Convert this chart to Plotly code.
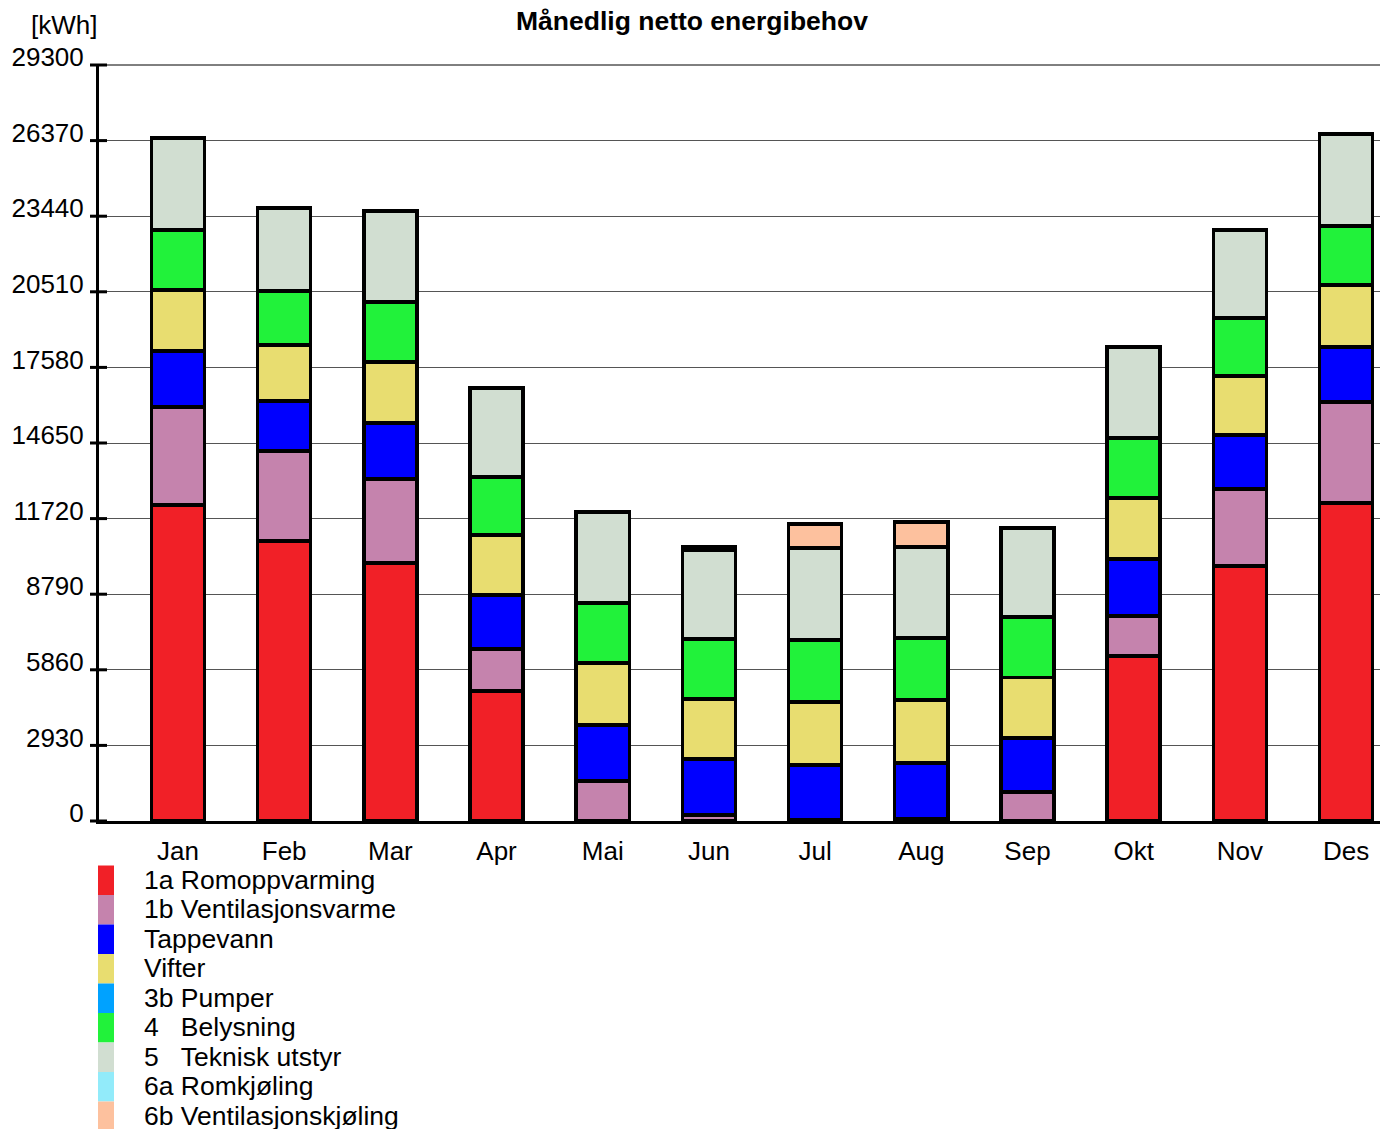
import plotly.graph_objects as go

# Monthly net energy demand per post [kWh]
months = ["Jan", "Feb", "Mar", "Apr", "Mai", "Jun", "Jul", "Aug", "Sep", "Okt", "Nov", "Des"]

romoppvarming = [12250, 10850, 10000, 5040, 0, 0, 0, 0, 0, 6400, 9880, 12330]
ventilasjonsvarme = [3800, 3490, 3260, 1630, 1550, 230, 60, 80, 1120, 1550, 2990, 3910]
tappevann = [2170, 1940, 2170, 2090, 2170, 2170, 2110, 2170, 2090, 2210, 2090, 2130]
vifter = [2360, 2170, 2360, 2330, 2400, 2330, 2440, 2440, 2360, 2360, 2290, 2400]
pumper = [0, 0, 0, 0, 0, 0, 0, 0, 0, 0, 0, 0]
belysning = [2330, 2090, 2330, 2250, 2330, 2330, 2400, 2400, 2330, 2330, 2250, 2290]
teknisk_utstyr = [3570, 3220, 3530, 3450, 3530, 3450, 3570, 3530, 3450, 3530, 3410, 3570]
romkjoling = [0, 0, 0, 0, 0, 0, 0, 0, 0, 0, 0, 0]
ventilasjonskjoling = [0, 0, 0, 0, 0, 100, 930, 970, 0, 0, 0, 0]

series_names = [
    "1a Romoppvarming",
    "1b Ventilasjonsvarme",
    "Tappevann",
    "Vifter",
    "3b Pumper",
    "4   Belysning",
    "5   Teknisk utstyr",
    "6a Romkjøling",
    "6b Ventilasjonskjøling",
]
series_values = [
    romoppvarming, ventilasjonsvarme, tappevann, vifter, pumper,
    belysning, teknisk_utstyr, romkjoling, ventilasjonskjoling,
]
series_colors = [
    "#F12027", "#C583AD", "#0000FF", "#E8DD70", "#00A2FF",
    "#21F23A", "#D1DED1", "#92EBFA", "#FDC19E",
]

y_ticks = [0, 2930, 5860, 8790, 11720, 14650, 17580, 20510, 23440, 26370, 29300]
y_max = 29300

W, H = 1384, 1129
L, R, T, B = 99, 4, 65, 308
plot_w = W - L - R
plot_h = H - T - B
FONT = "Liberation Sans, Arial, sans-serif"
FS = 26


def px_x(px):
    return (px - L) / plot_w


def px_y(py):
    return (H - B - py) / plot_h


fig = go.Figure()
for name, vals, col in zip(series_names, series_values, series_colors):
    fig.add_trace(go.Bar(
        x=months, y=vals, name=name, width=0.5,
        marker=dict(color=col, line=dict(color="black", width=3.5)),
        showlegend=False,
    ))

shapes = []
# tick marks crossing the value axis
for v in y_ticks:
    shapes.append(dict(type="line", xref="paper", yref="paper",
                       x0=px_x(90), x1=px_x(107), y0=v / y_max, y1=v / y_max,
                       line=dict(color="black", width=3)))
# top frame line
shapes.append(dict(type="line", xref="paper", yref="paper", x0=0, x1=1, y0=1, y1=1,
                   line=dict(color="black", width=1)))

annotations = [
    dict(text="[kWh]", xref="paper", yref="paper", x=px_x(64), y=px_y(25),
         xanchor="center", yanchor="middle", showarrow=False,
         font=dict(family=FONT, size=FS, color="black")),
]

# legend as stacked colour swatches with labels
row_h = 29.5
top0 = 865.5
for i, (name, col) in enumerate(zip(series_names, series_colors)):
    y0 = top0 + i * row_h
    shapes.append(dict(type="rect", xref="paper", yref="paper",
                       x0=px_x(98), x1=px_x(114), y0=px_y(y0 + row_h), y1=px_y(y0),
                       fillcolor=col, line=dict(width=0)))
    annotations.append(dict(text=name.replace(" ", "\u00a0"), xref="paper", yref="paper",
                            x=px_x(142), y=px_y(y0 + row_h / 2 - 0.5),
                            xanchor="left", yanchor="middle", showarrow=False,
                            font=dict(family=FONT, size=26.5, color="black")))

fig.update_layout(
    barmode="stack",
    width=W, height=H,
    margin=dict(l=L, r=R, t=T, b=B),
    paper_bgcolor="white", plot_bgcolor="white",
    font=dict(family=FONT, size=FS, color="black"),
    title=dict(text="<b>Månedlig netto energibehov</b>", x=0.5, xref="container",
               y=1 - 21 / H, yref="container", xanchor="center", yanchor="middle",
               font=dict(family=FONT, size=26.5, color="black")),
    shapes=shapes,
    annotations=annotations,
)
fig.update_xaxes(
    type="category", range=[-0.744, 11.32],
    showline=True, linecolor="black", linewidth=3,
    ticks="", showgrid=False,
    tickfont=dict(family=FONT, size=FS, color="black"),
    ticklabelstandoff=5,
)
fig.update_yaxes(
    range=[0, y_max], tickvals=y_ticks, ticktext=[str(v) for v in y_ticks],
    showline=True, linecolor="black", linewidth=3,
    ticks="", showgrid=True, gridcolor="#555555", gridwidth=1,
    zeroline=False,
    tickfont=dict(family=FONT, size=FS, color="black"),
    ticklabelstandoff=7, ticklabelshift=-8,
)

fig.write_html("out.html")
